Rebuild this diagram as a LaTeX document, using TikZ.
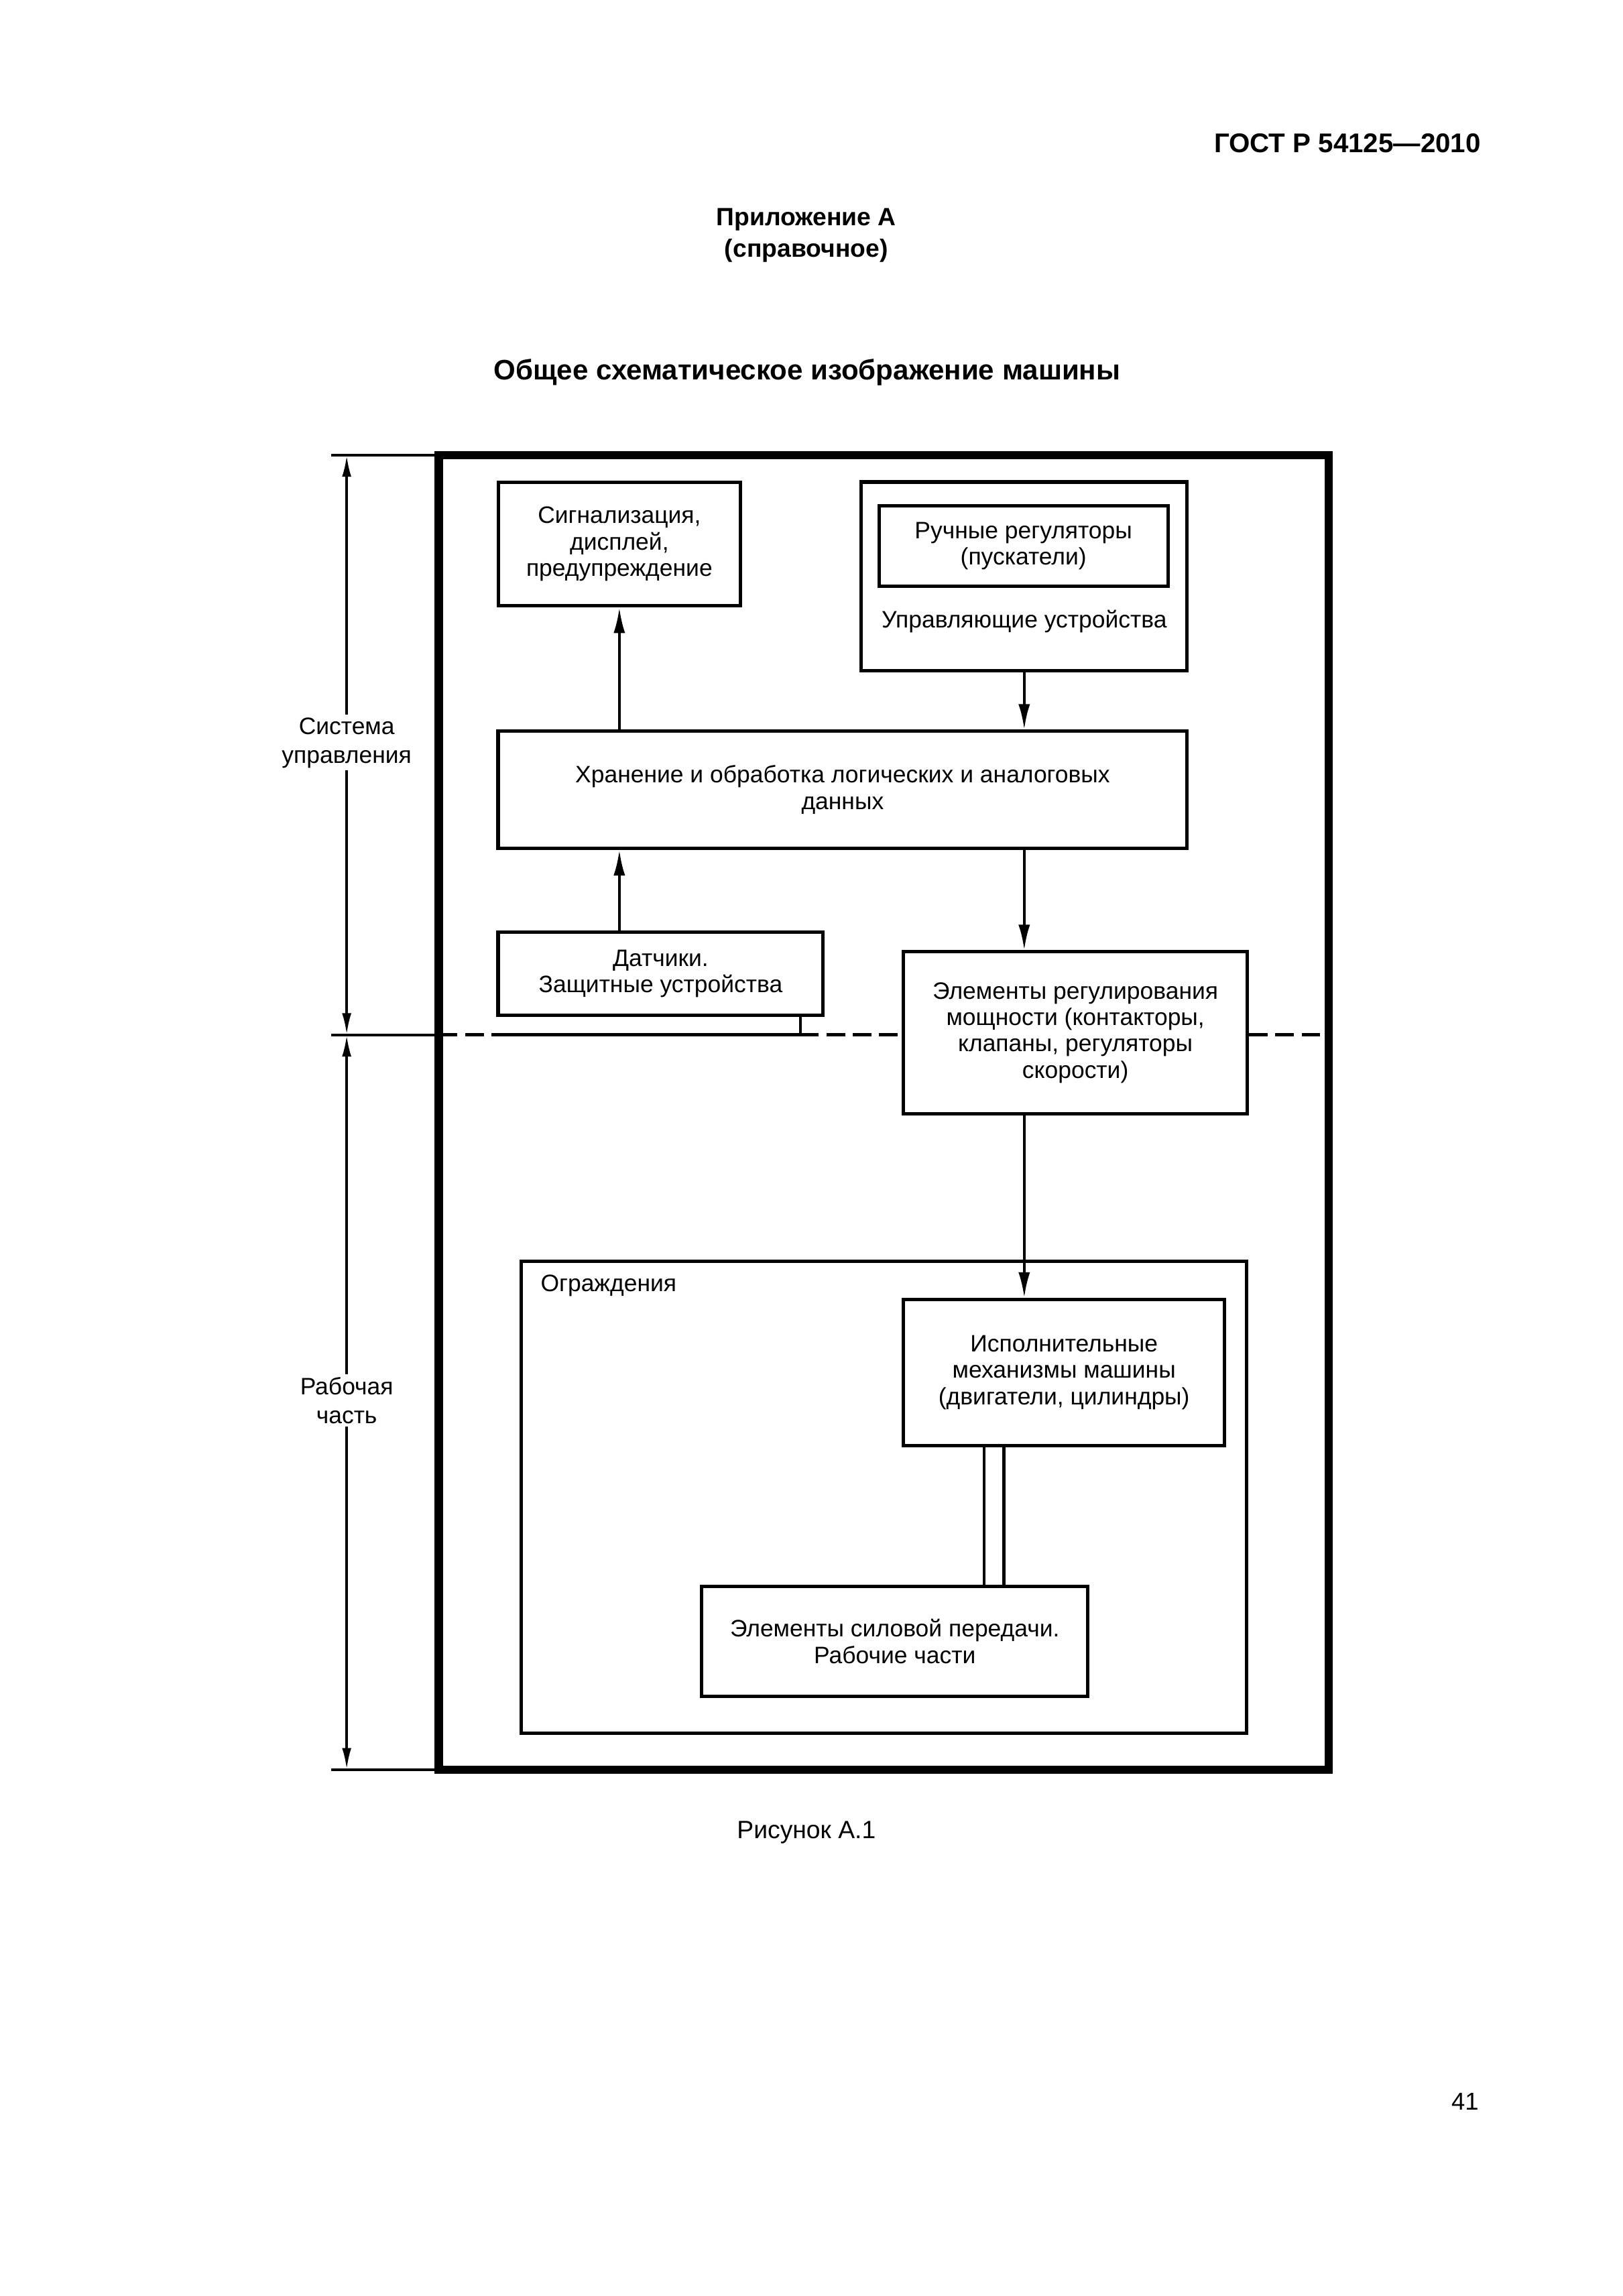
\documentclass[tikz,border=0pt]{standalone}
\usepackage{fontspec}
\setmainfont{Liberation Sans}
\usetikzlibrary{arrows.meta, positioning, calc}

\begin{document}
\begin{tikzpicture}[
    box/.style={draw, line width=1.25pt, align=center, inner sep=0pt, font=\fontsize{8.75}{9.7}\selectfont},
    txt/.style={align=center, font=\fontsize{8.75}{9.7}\selectfont},
    arr/.style={line width=1pt, -{Latex[length=0.33cm, width=0.15cm]}},
    dimarr/.style={line width=0.9pt, {Latex[length=0.28cm, width=0.12cm]}-{Latex[length=0.28cm, width=0.12cm]}},
    ext/.style={line width=0.9pt},
    border/.style={line width=1.25pt, dash pattern=on 0.24cm off 0.1cm},
]
    % Page
    \useasboundingbox (0,0) rectangle (21,-29.71);

    % Header and titles
    \node[font=\bfseries\fontsize{9.95}{12}\selectfont, anchor=east, inner sep=0pt] (gost) at (19.167,-1.854) {ГОСТ Р 54125—2010};
    \node[font=\bfseries\fontsize{9.2}{11.6}\selectfont, align=center] (annex) at (10.433,-3.041) {Приложение А\\(справочное)};
    \node[font=\bfseries\fontsize{10.38}{12}\selectfont] (title) at (10.443,-4.822) {Общее схематическое изображение машины};

    % Machine frame
    \node[draw, line width=3.1pt, outer sep=0pt, minimum width=11.512cm, minimum height=17.009cm] (machine) at (11.435,-14.394) {};

    % Control system
    \node[box, minimum width=3.137cm, minimum height=1.603cm] (signal) at (8.014,-7.039) {Сигнализация,\\дисплей,\\предупреждение};
    \node[box, minimum width=4.216cm, minimum height=2.444cm] (ctrl) at (13.253,-7.459) {};
    \node[box, minimum width=3.74cm, minimum height=1.039cm] (manual) at (13.243,-7.064) {Ручные регуляторы\\(пускатели)};
    \node[txt] (ctrllbl) at (13.253,-8.038) {Управляющие устройства};
    \node[box, minimum width=8.916cm, minimum height=1.514cm] (store) at (10.903,-10.22) {Хранение и обработка логических и аналоговых\\данных};
    \node[box, minimum width=4.206cm, minimum height=1.069cm] (sensors) at (8.548,-12.60) {Датчики.\\Защитные устройства};
    \node[box, minimum width=4.45cm, minimum height=2.094cm] (power) at (13.915,-13.364) {Элементы регулирования\\мощности (контакторы,\\клапаны, регуляторы\\скорости)};

    % Working part
    \node[box, minimum width=9.39cm, minimum height=6.11cm] (guard) at (11.437,-19.375) {};
    \node[txt, anchor=west, inner sep=0pt] (guardlbl) at (6.989,-16.637) {Ограждения};
    \node[box, minimum width=4.155cm, minimum height=1.89cm] (act) at (13.768,-17.76) {Исполнительные\\механизмы машины\\(двигатели, цилиндры)};
    \node[box, minimum width=4.993cm, minimum height=1.424cm] (transm) at (11.578,-21.238) {Элементы силовой передачи.\\Рабочие части};

    % Signal flow
    \draw[arr] (store.north -| signal.south) -- (signal.south);
    \draw[arr] (sensors.north -| signal.south) -- (store.south -| signal.south);
    \draw[arr] (ctrl.south) -- (store.north -| ctrl.south);
    \draw[arr] (store.south -| ctrl.south) -- (power.north -| ctrl.south);
    \draw[arr] (power.south -| ctrl.south) -- (act.north -| ctrl.south);

    % Shaft
    \coordinate (shaft) at (12.862,0);
    \draw[line width=1.2pt, double distance=0.215cm] (act.south -| shaft) -- (transm.north -| shaft);

    % Boundary between control system and working part
    \coordinate (sep) at (0,-13.391);
    \coordinate (tap) at (10.354,-13.391);
    \draw[border] (machine.west |- sep) -- (sensors.west |- sep);
    \draw[line width=1.25pt] (sensors.west |- sep) -- (tap);
    \draw[line width=1pt] (sensors.south -| tap) -- (tap);
    \draw[border] (tap) -- (power.west |- sep);
    \draw[border] (power.east |- sep) -- (machine.east |- sep);

    % Dimension lines
    \coordinate (dimx) at (4.486,0);
    \draw[ext] ([xshift=-1.39cm]machine.north west) -- (machine.north west);
    \draw[ext] ([xshift=-1.39cm]machine.west |- sep) -- (machine.west |- sep);
    \draw[ext] ([xshift=-1.39cm]machine.south west) -- (machine.south west);
    \draw[dimarr] (dimx |- machine.north) -- (dimx |- sep);
    \draw[dimarr] (dimx |- sep) -- (dimx |- machine.south);
    \node[txt, fill=white, inner sep=1pt, font=\fontsize{8.75}{10.6}\selectfont] (ctrlsys) at (4.486,-9.61) {Система\\управления};
    \node[txt, fill=white, inner sep=1pt, font=\fontsize{8.75}{10.6}\selectfont] (workpart) at (4.486,-18.12) {Рабочая\\часть};

    % Caption and page number
    \node[font=\fontsize{9.2}{11}\selectfont, anchor=base] (caption) at (10.434,-23.79) {Рисунок А.1};
    \node[font=\fontsize{9}{11}\selectfont, anchor=base east, inner sep=0pt] (page) at (19.14,-27.302) {41};
\end{tikzpicture}
\end{document}
